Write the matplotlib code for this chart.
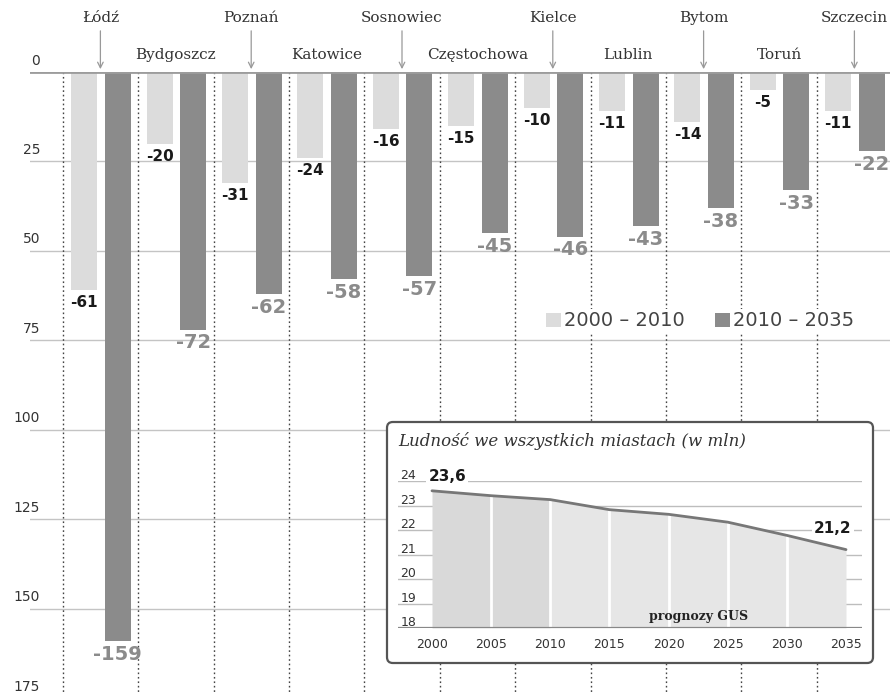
import matplotlib
matplotlib.use("Agg")
import matplotlib.pyplot as plt
from matplotlib.patches import FancyBboxPatch, Patch
import numpy as np

# ---------------- data ----------------
cities = ["Łódź", "Bydgoszcz", "Poznań", "Katowice", "Sosnowiec", "Częstochowa",
          "Kielce", "Lublin", "Bytom", "Toruń", "Szczecin"]
change_2000_2010 = [-61, -20, -31, -24, -16, -15, -10, -11, -14, -5, -11]
change_2010_2035 = [-159, -72, -62, -58, -57, -45, -46, -43, -38, -33, -22]
legend_labels = ["2000 – 2010", "2010 – 2035"]
y_ticks = [0, 25, 50, 75, 100, 125, 150, 175]

inset_title = "Ludność we wszystkich miastach (w mln)"
years = [2000, 2005, 2010, 2015, 2020, 2025, 2030, 2035]
population = [23.6, 23.4, 23.24, 22.83, 22.64, 22.32, 21.78, 21.2]
inset_yticks = [18, 19, 20, 21, 22, 23, 24]
inset_note = "prognozy GUS"

LIGHT = "#dcdcdc"
DARK = "#8b8b8b"
TXT = "#333333"

W, H = 890, 692
fig = plt.figure(figsize=(W / 100, H / 100), dpi=100)

# ---------------- main axes ----------------
x0_px, grp_px = 62.7, 75.4
ax = fig.add_axes([30 / W, 0, 1 - 30 / W, 1 - 72 / H])
ax.set_xlim(-(x0_px - 30) / grp_px, (W - x0_px) / grp_px)
px_per_unit = 3.577
ax.set_ylim(-(H - 72) / px_per_unit, 0)
ax.axis("off")

n = len(cities)
idx = np.arange(n)
bw = 0.345
ax.bar(idx + 0.285, change_2000_2010, width=bw, color=LIGHT, zorder=2)
ax.bar(idx + 0.73, change_2010_2035, width=bw, color=DARK, zorder=2)

# horizontal grid
for t in y_ticks[1:]:
    ax.axhline(-t, color="#c4c4c4", lw=1.0, zorder=1)
ax.axhline(0, color="#9c9c9c", lw=2.0, zorder=3)
# vertical dotted separators
for i in range(n):
    ax.plot([i, i], [0, -200], color="#444444", lw=1.0, ls=(0, (1.2, 2.0)), zorder=1.5)

# y labels
for t in y_ticks:
    ax.text((40 - 30) / (W - 30), -t + 3.2, str(t), transform=ax.get_yaxis_transform(),
            ha="right", va="center", fontsize=10, color=TXT, clip_on=False)

# value labels
for i, v in enumerate(change_2000_2010):
    ax.text(i + 0.285, v - 1.4, str(v), ha="center", va="top", fontsize=11,
            fontweight="bold", color="#1a1a1a", zorder=4)
for i, v in enumerate(change_2010_2035):
    ax.text(i + 0.73, v - 1.1, str(v), ha="center", va="top", fontsize=14,
            fontweight="bold", color=DARK, zorder=4)

# city labels
for i, c in enumerate(cities):
    if i % 2 == 0:
        ax.text(i + 0.5, 15.1, c, ha="center", va="center", fontsize=11,
                family="DejaVu Serif", color=TXT, clip_on=False)
        ax.annotate("", xy=(i + 0.5, 0.8), xytext=(i + 0.5, 11.5),
                    arrowprops=dict(arrowstyle="->", color="#999999", lw=0.9,
                                    shrinkA=0, shrinkB=0), annotation_clip=False)
    else:
        ax.text(i + 0.5, 4.8, c, ha="center", va="center", fontsize=11,
                family="DejaVu Serif", color=TXT, clip_on=False)

# legend
handles = [Patch(facecolor=LIGHT, edgecolor="none"), Patch(facecolor=DARK, edgecolor="none")]
leg = fig.legend(handles, legend_labels, loc="center", bbox_to_anchor=(700 / W, 1 - 321 / H),
                 ncol=2, frameon=True, fontsize=14, handlelength=0.75, handleheight=0.75,
                 handletextpad=0.15, columnspacing=1.6, borderpad=0.15, labelcolor="#444444")
leg.get_frame().set_facecolor("white")
leg.get_frame().set_edgecolor("none")
leg.get_frame().set_alpha(1)

# ---------------- inset ----------------
bl, br, bt, bb = 387, 873, 422, 663
box_ax = fig.add_axes([bl / W, 1 - bb / H, (br - bl) / W, (bb - bt) / H], zorder=5)
box_ax.axis("off")
box_ax.add_patch(FancyBboxPatch((0, 0), 1, 1, boxstyle="round,pad=0,rounding_size=0.012",
                                mutation_aspect=(br - bl) / (bb - bt),
                                transform=box_ax.transAxes, facecolor="white",
                                edgecolor="#555555", lw=1.6, clip_on=False))

il, ir, itop, ibot = 398, 862, 481, 628
iax = fig.add_axes([il / W, 1 - ibot / H, (ir - il) / W, (ibot - itop) / H], zorder=6)
iax.patch.set_visible(False)
x_lo = 2000 - (432 - il) / 11.83
x_hi = 2035 + (ir - 846) / 11.83
iax.set_xlim(x_lo, x_hi)
iax.set_ylim(18, 24)
for s in iax.spines.values():
    s.set_visible(False)
iax.set_yticks([])
iax.set_xticks(years)
iax.set_xticklabels([str(y) for y in years], fontsize=9, color=TXT)
iax.tick_params(axis="x", length=0, pad=7)

for t in inset_yticks[1:]:
    iax.axhline(t, color="#bdbdbd", lw=1.0, zorder=1)
iax.axhline(18, color="#888888", lw=1.6, zorder=4)

for k in range(len(years) - 1):
    xs = [years[k], years[k + 1]]
    ys = [population[k], population[k + 1]]
    iax.fill_between(xs, 18, ys, color="#d9d9d9" if k < 2 else "#e6e6e6", lw=0, zorder=2)
for k in range(1, len(years) - 1):
    iax.plot([years[k], years[k]], [18, population[k]], color="white", lw=2, zorder=2.5)
iax.plot(years, population, color="#777777", lw=2.0, zorder=3, solid_capstyle="round")

for t in inset_yticks:
    iax.text(x_lo + 0.2, t + 0.08, str(t), ha="left", va="baseline", fontsize=9,
             color=TXT, zorder=5)

iax.text(1999.7, 24.02, "23,6", ha="left", va="baseline", fontsize=11, fontweight="bold",
         color="#1a1a1a", zorder=5,
         bbox=dict(facecolor="white", edgecolor="none", pad=1.5))
iax.text(2033.9, 22.08, "21,2", ha="center", va="center", fontsize=11, fontweight="bold",
         color="#1a1a1a", zorder=5,
         bbox=dict(facecolor="white", edgecolor="none", pad=1.5))
iax.text(2022.5, 18.45, inset_note, ha="center", va="center", fontsize=9,
         fontweight="bold", family="DejaVu Serif", color="#222222", zorder=5)

fig.text(398 / W, 1 - 441 / H, inset_title, ha="left", va="center", fontsize=12,
         family="DejaVu Serif", style="italic", color="#333333", zorder=10)

fig.savefig("out.png", dpi=100)
